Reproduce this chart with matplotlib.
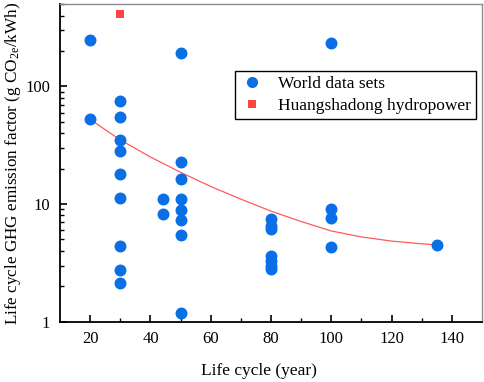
import matplotlib
matplotlib.use("Agg")
import matplotlib.pyplot as plt
from matplotlib.ticker import LogLocator, FixedLocator, NullFormatter

plt.rcParams['font.family'] = ['Liberation Serif', 'DejaVu Serif']
plt.rcParams['mathtext.fontset'] = 'custom'
plt.rcParams['mathtext.rm'] = 'Liberation Serif'
plt.rcParams['mathtext.it'] = 'Liberation Serif:italic'

# World data sets
world_x = [20, 20,
           30, 30, 30, 30, 30, 30, 30, 30, 30,
           44, 44,
           50, 50, 50, 50, 50, 50, 50, 50,
           80, 80, 80, 80, 80, 80, 80,
           100, 100, 100, 100,
           135]
world_y = [250, 52.6,
           75, 55, 35, 28, 18, 11.2, 4.4, 2.75, 2.12,
           11.1, 8.3,
           194, 22.7, 16.3, 11.0, 8.9, 7.3, 5.46, 1.19,
           7.5, 6.5, 6.1, 3.6, 3.3, 3.0, 2.8,
           236, 9.0, 7.6, 4.32,
           4.49]

# Huangshadong hydropower
hsd_x = [30]
hsd_y = [416]

# Fitted trend line
fit_x = [20, 25, 30, 40, 50, 60, 70, 80, 90, 100, 110, 120, 130, 135]
fit_y = [52.6, 42.8, 35.1, 25.1, 18.6, 14.1, 11.0, 8.7, 7.1, 5.9, 5.25, 4.84, 4.59, 4.49]

fig = plt.figure(figsize=(4.84, 3.82), dpi=100)
ax = fig.add_axes([0.124, 0.158, 0.872, 0.831])

ax.plot(fit_x, fit_y, color='#FF5A5A', lw=0.9, zorder=2)
ax.plot(world_x, world_y, 'o', color='#0A6EE6', markersize=8.6, markeredgewidth=0,
        label='World data sets', zorder=3)
ax.plot(hsd_x, hsd_y, 's', color='#FF4343', markersize=6.2, markeredgewidth=0,
        label='Huangshadong hydropower', zorder=4)

ax.set_yscale('log')
ax.set_xlim(10, 150)
ax.set_ylim(1, 500)

ax.xaxis.set_major_locator(FixedLocator([20, 40, 60, 80, 100, 120, 140]))
ax.xaxis.set_minor_locator(FixedLocator([30, 50, 70, 90, 110, 130]))
ax.yaxis.set_major_locator(FixedLocator([1, 10, 100]))
ax.yaxis.set_minor_locator(LogLocator(base=10, subs=range(2, 10)))
ax.yaxis.set_minor_formatter(NullFormatter())
ax.set_yticklabels(['1', '10', '100'])

ax.tick_params(axis='both', which='major', direction='in', length=5, width=1.2,
               labelsize=12, colors='black', pad=7)
ax.tick_params(axis='both', which='minor', direction='in', length=3, width=1.0)
ax.tick_params(top=False, right=False, which='both')

for s in ['left', 'bottom']:
    ax.spines[s].set_linewidth(1.3)
    ax.spines[s].set_color('black')
for s in ['top', 'right']:
    ax.spines[s].set_linewidth(1.0)
    ax.spines[s].set_color('#8C8C8C')

ax.set_xlabel('Life cycle (year)', fontsize=12.5, labelpad=8)
ax.xaxis.set_label_coords(0.472, -0.13)
ax.set_ylabel('Life cycle GHG emission factor (g CO$_{\\mathrm{2e}}$/kWh)', fontsize=12.3, labelpad=2)

leg = ax.legend(loc='upper right', bbox_to_anchor=(0.986, 0.79), fontsize=12.5,
                frameon=True, fancybox=False, edgecolor='black', framealpha=1,
                borderpad=0.3, handletextpad=0.8, labelspacing=0.3, handlelength=1.4,
                borderaxespad=0)
leg.get_frame().set_linewidth(1.0)
leg.legend_handles[0].set_markersize(8)
leg.legend_handles[1].set_markersize(6)

fig.savefig('out.png', dpi=100)
